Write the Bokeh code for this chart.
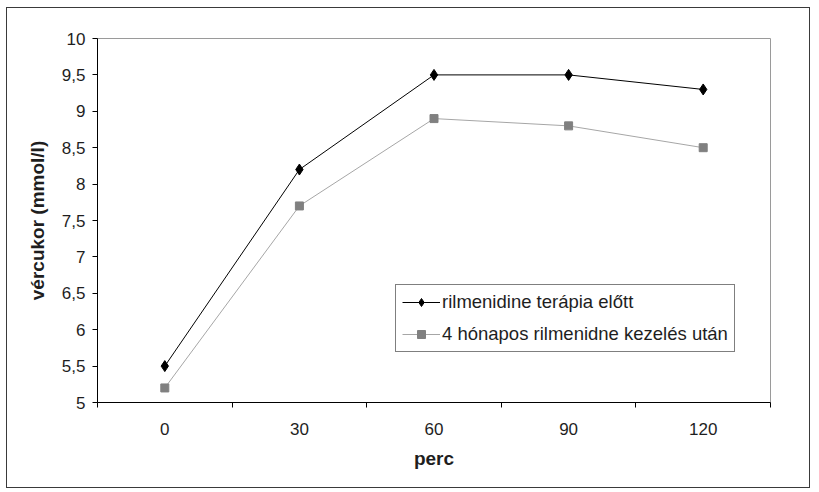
from bokeh.plotting import figure
from bokeh.models import (Range1d, FixedTicker, CustomJSTickFormatter, Legend,
                          LegendItem, ColumnDataSource)
from bokeh.embed import file_html
from bokeh.resources import INLINE

# Blood glucose during the load test, before and after rilmenidine treatment
minutes = ["0", "30", "60", "90", "120"]
before_therapy = [5.5, 8.2, 9.5, 9.5, 9.3]
after_4_months = [5.2, 7.7, 8.9, 8.8, 8.5]
y_ticks = [5, 5.5, 6, 6.5, 7, 7.5, 8, 8.5, 9, 9.5, 10]

label_before = "rilmenidine terápia előtt"
label_after = "4 hónapos rilmenidne kezelés után"

# each time point sits in the middle of its own category band
centers = [i + 0.5 for i in range(len(minutes))]
edges = list(range(len(minutes) + 1))

src = ColumnDataSource(data=dict(x=centers, before=before_therapy,
                                 after=after_4_months))

FONT = "Liberation Sans"
TXT = "#1e1e1e"

p = figure(width=804, height=481, output_backend="svg", toolbar_location=None,
           x_range=Range1d(0, len(minutes)), y_range=Range1d(5, 10),
           min_border_left=90, min_border_right=41,
           min_border_top=30, min_border_bottom=87)
p.styles = {"margin-left": "6px", "margin-top": "7px",
            "border": "1px solid #3a3a3a"}

p.xgrid.grid_line_color = None
p.ygrid.grid_line_color = None
p.outline_line_color = "#9a9a9a"
p.outline_line_width = 1
p.background_fill_color = "white"
p.border_fill_color = "white"

# x axis: labels centred in each band, tick marks on the band edges
xa = p.xaxis[0]
xa.ticker = FixedTicker(ticks=centers, minor_ticks=edges)
xa.formatter = CustomJSTickFormatter(args=dict(labels=minutes),
                                     code="return labels[Math.round(tick - 0.5)];")
xa.major_tick_line_color = None
xa.major_tick_out = 5
xa.major_tick_in = 0
xa.minor_tick_line_color = "black"
xa.minor_tick_out = 5
xa.minor_tick_in = 0
xa.axis_line_color = "black"
xa.major_label_text_font = FONT
xa.major_label_text_font_size = "17px"
xa.major_label_text_color = TXT
xa.major_label_standoff = 15
xa.axis_label = "perc"
xa.axis_label_text_font = FONT
xa.axis_label_text_font_style = "bold"
xa.axis_label_text_font_size = "19px"
xa.axis_label_text_color = TXT
xa.axis_label_standoff = 10

ya = p.yaxis[0]
ya.ticker = FixedTicker(ticks=y_ticks)
ya.formatter = CustomJSTickFormatter(code="return tick.toString().replace('.', ',');")
ya.major_tick_out = 5
ya.major_tick_in = 0
ya.minor_tick_line_color = None
ya.axis_line_color = "black"
ya.major_tick_line_color = "black"
ya.major_label_text_font = FONT
ya.major_label_text_font_size = "17px"
ya.major_label_text_color = TXT
ya.major_label_standoff = 7
ya.axis_label = "vércukor (mmol/l)"
ya.axis_label_text_font = FONT
ya.axis_label_text_font_style = "bold"
ya.axis_label_text_font_size = "19px"
ya.axis_label_text_color = TXT
ya.axis_label_standoff = 11

l_after = p.line("x", "after", source=src, line_color="#a6a6a6", line_width=1)
m_after = p.scatter("x", "after", source=src, marker="square", size=8,
                    fill_color="#808080", line_color="#808080")
l_before = p.line("x", "before", source=src, line_color="black", line_width=1)
m_before = p.scatter("x", "before", source=src, marker="diamond", size=11,
                     fill_color="black", line_color="black")

legend = Legend(items=[LegendItem(label=label_before, renderers=[l_before, m_before]),
                       LegendItem(label=label_after, renderers=[l_after, m_after])],
                location=(298, 50))
legend.border_line_color = "black"
legend.border_line_width = 1
legend.background_fill_color = "white"
legend.background_fill_alpha = 1
legend.label_text_font = FONT
legend.label_text_font_size = "18.5px"
legend.label_text_color = TXT
legend.glyph_width = 38
legend.glyph_height = 20
legend.label_height = 20
legend.label_standoff = 2
legend.padding = 6
legend.spacing = 10
legend.margin = 0
p.add_layout(legend)

open("out.html", "w").write(file_html(p, INLINE))
